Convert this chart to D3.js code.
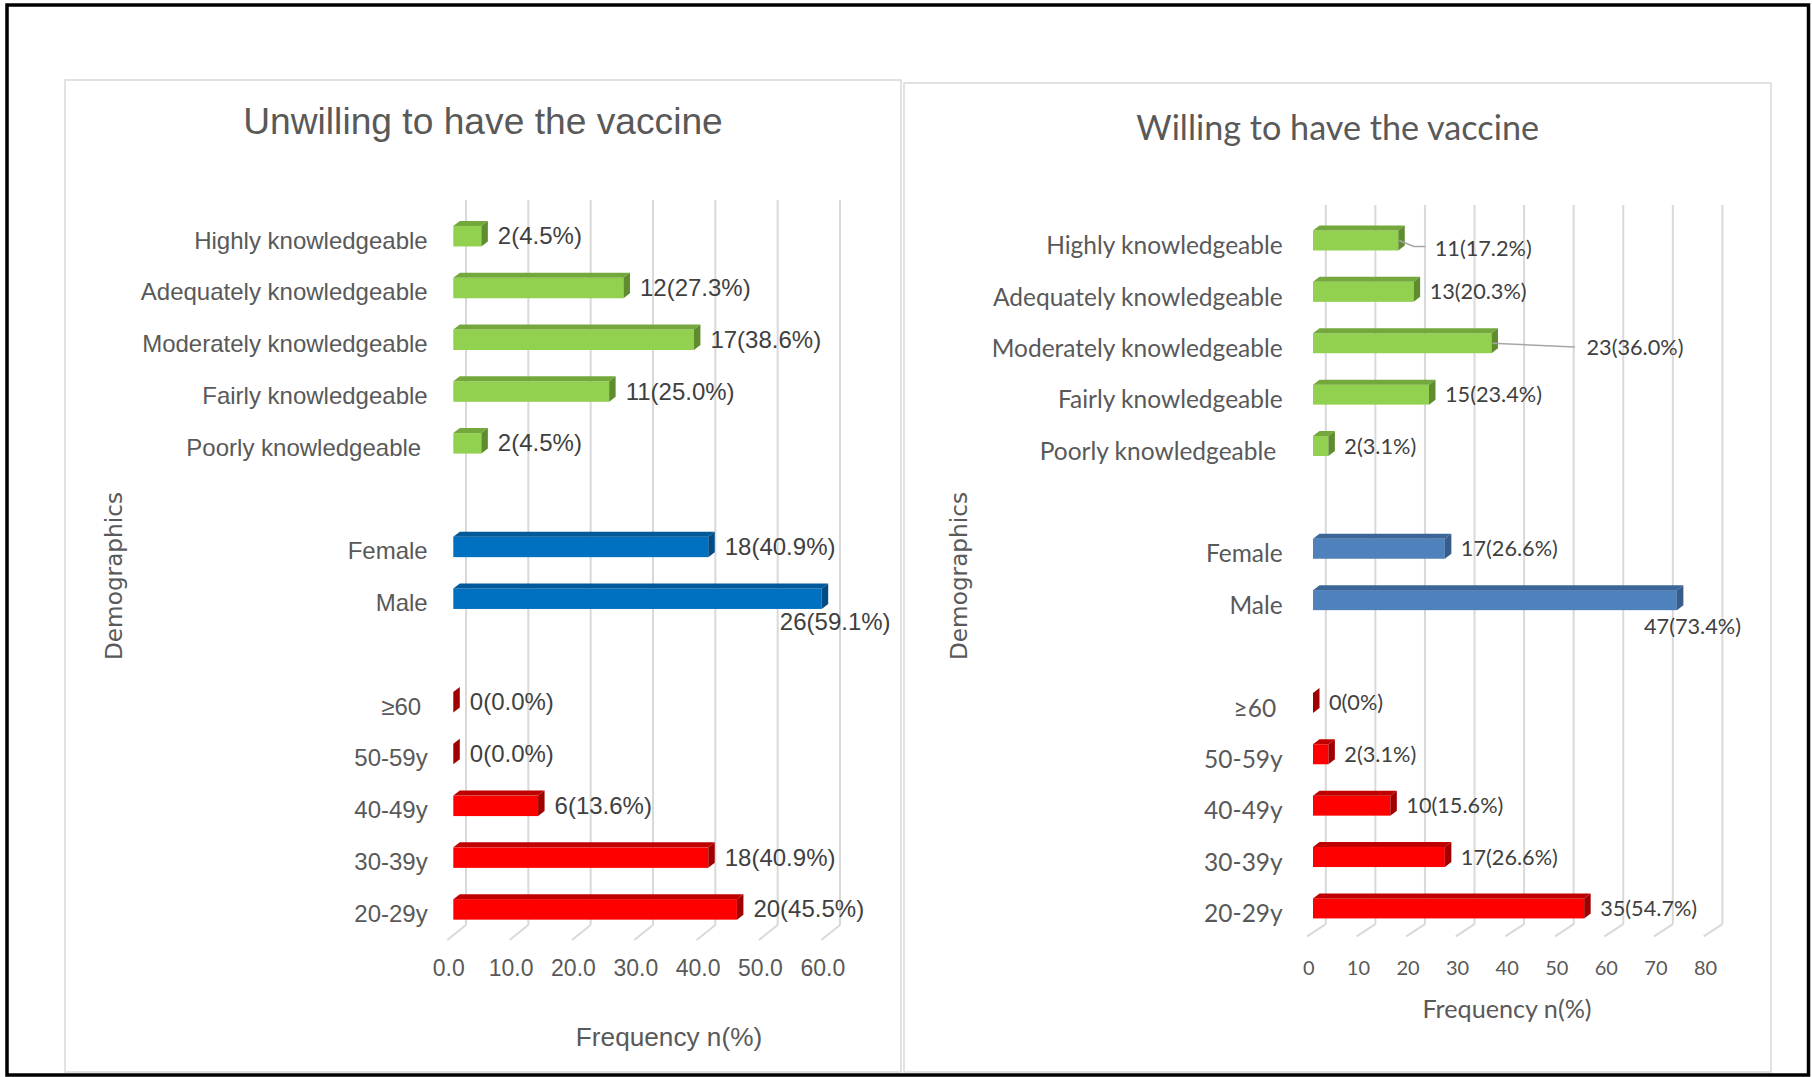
<!DOCTYPE html>
<html><head><meta charset="utf-8">
<script src="https://cdn.jsdelivr.net/npm/d3@7/dist/d3.min.js"></script>
<style>html,body{margin:0;padding:0;background:#fff;overflow:hidden}</style>
</head><body>
<svg id="chart" width="1812" height="1077"></svg>
<script>
// ---------------- DATA ----------------
const knowledgeLevels = ["Highly knowledgeable","Adequately knowledgeable","Moderately knowledgeable","Fairly knowledgeable","Poorly knowledgeable"];
const genders = ["Female","Male"];
const ageGroups = ["≥60","50-59y","40-49y","30-39y","20-29y"];

const unwillingKnowledgeN   = [2, 12, 17, 11, 2];
const unwillingKnowledgePct = [4.5, 27.3, 38.6, 25.0, 4.5];
const unwillingGenderN      = [18, 26];
const unwillingGenderPct    = [40.9, 59.1];
const unwillingAgeN         = [0, 0, 6, 18, 20];
const unwillingAgePct       = [0.0, 0.0, 13.6, 40.9, 45.5];

const willingKnowledgeN   = [11, 13, 23, 15, 2];
const willingKnowledgePct = [17.2, 20.3, 36.0, 23.4, 3.1];
const willingGenderN      = [17, 47];
const willingGenderPct    = [26.6, 73.4];
const willingAgeN         = [0, 2, 10, 17, 35];
const willingAgePct       = [0, 3.1, 15.6, 26.6, 54.7];

const unwillingTicks = [0, 10, 20, 30, 40, 50, 60];
const willingTicks   = [0, 10, 20, 30, 40, 50, 60, 70, 80];

const titles = ["Unwilling to have the vaccine", "Willing to have the vaccine"];
const xAxisTitle = "Frequency n(%)";
const yAxisTitle = "Demographics";

// ---------------- BUILD ROWS ----------------
function buildRows(kn, kp, gn, gp, an, ap) {
  const rows = [];
  knowledgeLevels.forEach((c, i) => rows.push({label: c, n: kn[i], pct: kp[i], group: "k"}));
  rows.push(null);
  genders.forEach((c, i) => rows.push({label: c, n: gn[i], pct: gp[i], group: "g"}));
  rows.push(null);
  ageGroups.forEach((c, i) => rows.push({label: c, n: an[i], pct: ap[i], group: "a"}));
  return rows;
}

const svg = d3.select("#chart");
const textColor = "#595959";

// outer frame
svg.append("rect").attr("x", 7).attr("y", 5).attr("width", 1801.5).attr("height", 1070)
  .attr("fill", "none").attr("stroke", "#000").attr("stroke-width", 3.5);

function drawChart(cfg) {
  const g = svg.append("g");
  // panel
  g.append("rect").attr("x", cfg.panel[0]).attr("y", cfg.panel[1]).attr("width", cfg.panel[2]).attr("height", cfg.panel[3])
    .attr("fill", "#fff").attr("stroke", "#d9d9d9").attr("stroke-width", 1.5);

  const x = d3.scaleLinear().domain(cfg.domain).range(cfg.xRange);
  const y = d3.scaleBand().domain(d3.range(cfg.rows.length)).range(cfg.yRange).padding(0);
  const yc = i => y(i) + y.bandwidth() / 2;

  // title
  g.append("text").attr("x", cfg.title.x).attr("y", cfg.title.y).attr("text-anchor", "middle")
    .attr("font-family", cfg.font).attr("font-size", cfg.title.size).attr("fill", textColor).text(cfg.title.text);

  // gridlines + floor diagonals
  const grid = g.append("g").attr("stroke", "#d9d9d9").attr("stroke-width", 2).attr("fill", "none");
  cfg.ticks.forEach(t => {
    grid.append("line").attr("x1", x(t)).attr("x2", x(t)).attr("y1", cfg.yRange[0]).attr("y2", cfg.yRange[1]);
    grid.append("line").attr("x1", x(t)).attr("y1", cfg.yRange[1])
      .attr("x2", x(t) + cfg.floor[0]).attr("y2", cfg.yRange[1] + cfg.floor[1]);
  });

  // tick labels
  const fmtTick = d3.format(cfg.tickFormat);
  g.append("g").selectAll("text").data(cfg.ticks).join("text")
    .attr("x", t => x(t) + cfg.floor[0] + cfg.tick.dx).attr("y", cfg.tick.y)
    .attr("text-anchor", "middle").attr("font-family", cfg.font).attr("font-size", cfg.tick.size)
    .attr("fill", textColor).text(t => fmtTick(t));

  // category labels
  const rowsIdx = cfg.rows.map((r, i) => ({r, i})).filter(d => d.r);
  g.append("g").selectAll("text").data(rowsIdx).join("text")
    .attr("x", d => cfg.cat.x + (cfg.cat.stagger.includes(d.i) ? -6.5 : 0))
    .attr("y", d => yc(d.i) + cfg.cat.dy)
    .attr("text-anchor", "end").attr("font-family", cfg.font).attr("font-size", cfg.cat.size)
    .attr("fill", textColor).text(d => d.r.label);

  // bars (3D)
  const bars = g.append("g");
  const [ddx, ddy] = cfg.depth;
  rowsIdx.forEach(({r, i}) => {
    const col = cfg.colors[r.group];
    const xf0 = x(0) + cfg.front[0];
    const xf1 = x(r.pct) + cfg.front[0];
    const cy = yc(i) + cfg.front[1];
    const y0 = cy - cfg.barH / 2, y1 = cy + cfg.barH / 2;
    if (xf1 > xf0) {
      bars.append("rect").attr("x", xf0).attr("y", y0).attr("width", xf1 - xf0).attr("height", cfg.barH).attr("fill", col[0]);
      bars.append("polygon").attr("points", [[xf0, y0], [xf1, y0], [xf1 + ddx, y0 + ddy], [xf0 + ddx, y0 + ddy]].map(p => p.join(",")).join(" "))
        .attr("fill", col[1]);
    }
    bars.append("polygon").attr("points", [[xf1, y0], [xf1 + ddx, y0 + ddy], [xf1 + ddx, y1 + ddy], [xf1, y1]].map(p => p.join(",")).join(" "))
      .attr("fill", col[2]);

    // data label
    const txt = r.n + "(" + cfg.pctFormat(r.pct) + "%)";
    const sideEnd = xf1 + ddx;
    const nudge = cfg.nudge[r.label];
    let lx = sideEnd + cfg.lab.gap, ly = cy + cfg.lab.base, anchor = "start";
    if (nudge && nudge.mode === "below") {
      lx = sideEnd + nudge.dx; ly = y1 + nudge.dy; anchor = "end";
    } else if (nudge && nudge.mode === "leader") {
      lx += nudge.dx; ly += nudge.dy;
      const lc = ly - cfg.lab.base; // label vertical centre
      const pts = [[xf1 + 1, cy]].concat(nudge.bend ? [[lx - 21, lc - 2], [lx - 9.3, lc - 2]] : [[lx - 11.6, lc - 0.8]]);
      bars.append("polyline").attr("points", pts.map(p => p.join(",")).join(" "))
        .attr("fill", "none").attr("stroke", "#a6a6a6").attr("stroke-width", 1.5);
    }
    bars.append("text").attr("x", lx).attr("y", ly).attr("text-anchor", anchor)
      .attr("font-family", cfg.font).attr("font-size", cfg.lab.size).attr("fill", "#404040").text(txt);
  });

  // axis titles
  g.append("text").attr("x", cfg.xTitle.x).attr("y", cfg.xTitle.y).attr("text-anchor", "middle")
    .attr("font-family", cfg.font).attr("font-size", cfg.xTitle.size).attr("fill", textColor).text(xAxisTitle);
  g.append("text").attr("transform", `translate(${cfg.yTitle.x},${cfg.yTitle.y}) rotate(-90)`)
    .attr("text-anchor", "middle").attr("font-family", cfg.yTitle.font).attr("font-size", cfg.yTitle.size)
    .attr("fill", textColor).text(yAxisTitle);
}

const fmt1 = d3.format(".1f");

drawChart({
  rows: buildRows(unwillingKnowledgeN, unwillingKnowledgePct, unwillingGenderN, unwillingGenderPct, unwillingAgeN, unwillingAgePct),
  font: "'Liberation Sans', Arial, sans-serif",
  panel: [65, 80, 836, 992],
  title: {text: titles[0], x: 483, y: 134, size: 37.2},
  domain: [0, 60], xRange: [466, 840], yRange: [200, 925],
  ticks: unwillingTicks, tickFormat: ".1f",
  floor: [-18.7, 15],
  front: [-12.7, 10.3], barH: 20.5, depth: [6.5, -5],
  cat: {x: 427.7, dy: 22.7, size: 24, stagger: [4, 9]},
  lab: {gap: 10, base: 8, size: 24},
  tick: {y: 976, dx: 1.5, size: 23},
  xTitle: {x: 669, y: 1045.7, size: 26.2},
  yTitle: {x: 121.7, y: 576, size: 23.2, font: "'DejaVu Sans', sans-serif"},
  pctFormat: fmt1,
  colors: {k: ["#92D050", "#74A83C", "#5E8C2E"], g: ["#0070C0", "#005A9A", "#004C84"], a: ["#FF0000", "#C00000", "#A00000"]},
  nudge: {"Male": {mode: "below", dx: 62.4, dy: 20.7}}
});

drawChart({
  rows: buildRows(willingKnowledgeN, willingKnowledgePct, willingGenderN, willingGenderPct, willingAgeN, willingAgePct),
  font: "Lato, 'Open Sans', sans-serif",
  panel: [904, 83, 867, 989],
  title: {text: titles[1], x: 1337.7, y: 139.5, size: 34.2},
  domain: [0, 80], xRange: [1325.8, 1722.4], yRange: [204.9, 924.2],
  ticks: willingTicks, tickFormat: "d",
  floor: [-18.7, 12.2],
  front: [-12.8, 9.9], barH: 20, depth: [6.5, -5],
  cat: {x: 1282.7, dy: 23.6, size: 24.5, stagger: [4, 9]},
  lab: {gap: 9.5, base: 7.5, size: 21.7},
  tick: {y: 974.8, dx: 1.8, size: 20},
  xTitle: {x: 1507, y: 1018.4, size: 25.2},
  yTitle: {x: 966.7, y: 576, size: 23.2, font: "'DejaVu Sans', sans-serif"},
  pctFormat: v => v === 0 ? "0" : fmt1(v),
  colors: {k: ["#92D050", "#74A83C", "#5E8C2E"], g: ["#4F81BD", "#3D6698", "#385D8A"], a: ["#FF0000", "#C00000", "#A00000"]},
  nudge: {
    "Male": {mode: "below", dx: 57.6, dy: 24},
    "Highly knowledgeable": {mode: "leader", dx: 20.5, dy: 8, bend: true},
    "Moderately knowledgeable": {mode: "leader", dx: 79, dy: 4.5, bend: false}
  }
});
</script>
</body></html>
